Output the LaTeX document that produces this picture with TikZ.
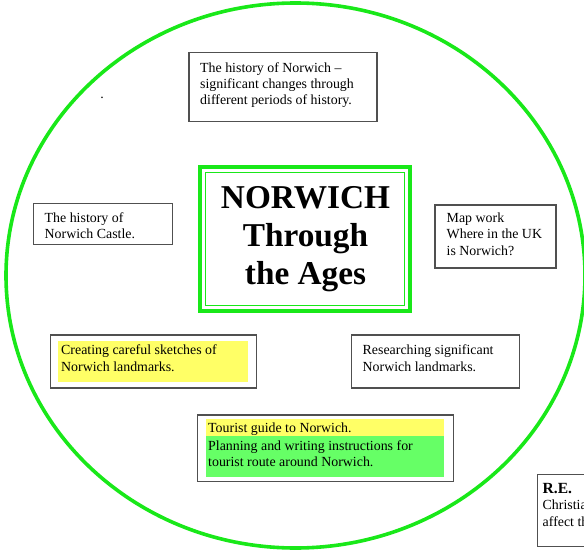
\documentclass[tikz,border=0pt]{standalone}
\usepackage{fontspec}
\usetikzlibrary{shapes.geometric}
\setmainfont{Liberation Serif}
\definecolor{ringgreen}{RGB}{25,232,25}
\definecolor{hiyellow}{RGB}{255,255,102}
\definecolor{higreen}{RGB}{102,255,102}
\definecolor{boxgray}{RGB}{80,80,80}
\newcommand{\bodyfont}{\fontsize{13.9}{16.3}\selectfont}
\tikzset{
  box/.style={draw=boxgray, line width=1.3pt, minimum width=#1},
  txt/.style={anchor=north west, align=left, inner sep=0pt, font=\bodyfont},
  hl/.style={fill=#1, inner sep=0pt},
}
\begin{document}
\begin{tikzpicture}[x=1pt,y=-1pt]
\useasboundingbox (0,0) rectangle (584,551);
\fill[white] (0,0) rectangle (584,551);
% outer ring
\node[draw=ringgreen, line width=3.6pt, ellipse, minimum width=579, minimum height=545, inner sep=0pt] (ring) at (295.5,275.5) {};
% small dot
\node[inner sep=0pt, font=\bodyfont] (dot) at (102,98) {.};
% top box
\node[box=188, minimum height=69] (hist) at (283,87) {};
\node[txt] (histT) at (200,62.3) {The history of Norwich –\\significant changes through\\different periods of history.};
% title
\node[draw=ringgreen, line width=4pt, minimum width=210, minimum height=144] (title) at (304.5,239) {};
\node[draw=ringgreen, line width=0.9pt, minimum width=199, minimum height=133] (titleIn) at (304.5,239) {};
\node[anchor=north, align=center, inner sep=0pt, font=\fontsize{33.3}{38}\selectfont\bfseries] (titleT) at (305.5,186.5) {NORWICH\\Through\\the Ages};
% castle
\node[box=139, minimum height=41] (castle) at (103,224) {};
\node[txt] (castleT) at (44.5,212.6) {The history of\\Norwich Castle.};
% map
\node[box=121, minimum height=63] (map) at (495.5,236.5) {};
\node[txt] (mapT) at (446.5,212.6) {Map work\\Where in the UK\\is Norwich?};
% sketches
\node[box=206, minimum height=53] (sketch) at (153.3,361.5) {};
\node[hl=hiyellow, minimum width=190, minimum height=41.5] (sketchHl) at (153.3,361.5) {};
\node[txt] (sketchT) at (61,344.8) {Creating careful sketches of\\Norwich landmarks.};
% researching
\node[box=168, minimum height=53] (research) at (435.8,361.5) {};
\node[txt] (researchT) at (362.5,344.8) {Researching significant\\Norwich landmarks.};
% tourist
\node[box=256, minimum height=66.5] (tour) at (325.3,448.3) {};
\node[hl=hiyellow, minimum width=238, minimum height=16.5, anchor=north] (tourY) at (324.5,419) {};
\node[hl=higreen, minimum width=238, minimum height=41, anchor=north] (tourG) at (324.5,435.5) {};
\node[txt] (tourT1) at (208,422.9) {Tourist guide to Norwich.};
\node[txt] (tourT2) at (208,440.4) {Planning and writing instructions for\\tourist route around Norwich.};
% R.E. box (cut by the page edge)
\node[draw=boxgray, line width=1.3pt, minimum width=80, minimum height=72.5, anchor=north west] (re) at (537,473.5) {};
\node[txt, font=\fontsize{15.5}{18}\selectfont\bfseries] (reT) at (542.5,482.8) {R.E.};
\node[txt] (reT2) at (542.5,500) {Christia\\affect th};
\end{tikzpicture}
\end{document}
